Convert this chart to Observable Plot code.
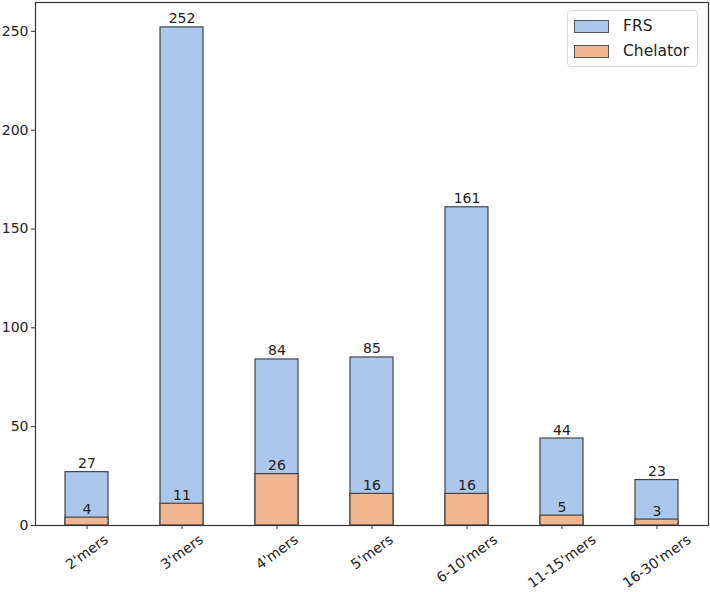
<!DOCTYPE html>
<html>
<head>
<meta charset="utf-8">
<script src="https://cdn.jsdelivr.net/npm/d3@7"></script>
<script src="https://cdn.jsdelivr.net/npm/@observablehq/plot@0.6"></script>
<style>
  html, body { margin: 0; padding: 0; background: #fff; }
  #wrap { position: relative; width: 710px; height: 592px; font-family: "DejaVu Sans", sans-serif; }
  #wrap svg { overflow: visible; }
  .legend { position: absolute; left: 567px; top: 10px; width: 129px; height: 55px;
    border: 1px solid #dcdcdc; border-radius: 4px; background: rgba(255,255,255,0.85); box-sizing: content-box; }
  .item { position: absolute; left: 6px; height: 14px; display: flex; align-items: center; }
  .sw { width: 33px; height: 11px; border: 1px solid #555; margin-right: 14px; }
  .lab { font-size: 15.5px; color: #222; line-height: 14px; }
</style>
</head>
<body>
<div id="wrap"></div>
<script>
const categories = ["2'mers", "3'mers", "4'mers", "5'mers", "6-10'mers", "11-15'mers", "16-30'mers"];
const frsValues = [27, 252, 84, 85, 161, 44, 23];
const chelatorValues = [4, 11, 26, 16, 16, 5, 3];
const yTicks = [0, 50, 100, 150, 200, 250];
const seriesNames = ["FRS", "Chelator"];
const seriesColors = ["#abc8ec", "#f1b68f"];

const frsData = categories.map((c, i) => ({cat: c, value: frsValues[i]}));
const chelData = categories.map((c, i) => ({cat: c, value: chelatorValues[i]}));

const FONT = "DejaVu Sans";
const FS = 14;
const ctx = document.createElement("canvas").getContext("2d");
ctx.font = `${FS}px "${FONT}"`;
const ANG = 36;
function rotHalf(t) {
  const w = ctx.measureText(t).width;
  const a = ANG * Math.PI / 180;
  return (w * Math.sin(a) + FS * 1.15 * Math.cos(a)) / 2;
}

const edge = "#444";
const chart = Plot.plot({
  width: 710,
  height: 592,
  marginLeft: 35,
  marginRight: 2,
  marginTop: 2,
  marginBottom: 67,
  style: {fontFamily: FONT, fontSize: FS + "px", color: "#222", background: "transparent"},
  x: {type: "band", domain: categories, paddingInner: 0.55, paddingOuter: 0.29, align: 0.5},
  y: {domain: [0, 252 * 1.05]},
  marks: [
    Plot.barY(frsData, {x: "cat", y: "value", fill: seriesColors[0], stroke: edge, strokeWidth: 1.2}),
    Plot.barY(chelData, {x: "cat", y: "value", fill: seriesColors[1], stroke: edge, strokeWidth: 1.2}),
    Plot.text(frsData, {x: "cat", y: "value", text: d => String(d.value), lineAnchor: "bottom", dy: -4, fontSize: FS, fill: "#222"}),
    Plot.text(chelData, {x: "cat", y: "value", text: d => String(d.value), lineAnchor: "bottom", dy: -4, fontSize: FS, fill: "#222"}),
    Plot.axisY({ticks: yTicks, tickSize: 4, tickPadding: 3, stroke: "#333", fontSize: FS, label: null}),
    Plot.axisX({tickSize: 4, tickFormat: () => "", stroke: "#333", label: null}),
    ...categories.map(c => Plot.text([c], {x: d => d, frameAnchor: "bottom", dy: 6 + rotHalf(c), rotate: -ANG,
      textAnchor: "middle", lineAnchor: "middle", fontSize: FS, fill: "#222"})),
    Plot.frame({stroke: "#333", strokeWidth: 1.2})
  ]
});

const wrap = document.getElementById("wrap");
wrap.appendChild(chart);
const legend = document.createElement("div");
legend.className = "legend";
seriesNames.forEach((n, i) => {
  const it = document.createElement("div");
  it.className = "item";
  it.style.top = (8 + i * 25) + "px";
  const sw = document.createElement("div");
  sw.className = "sw";
  sw.style.background = seriesColors[i];
  const lb = document.createElement("span");
  lb.className = "lab";
  lb.textContent = n;
  it.appendChild(sw);
  it.appendChild(lb);
  legend.appendChild(it);
});
wrap.appendChild(legend);
</script>
</body>
</html>
